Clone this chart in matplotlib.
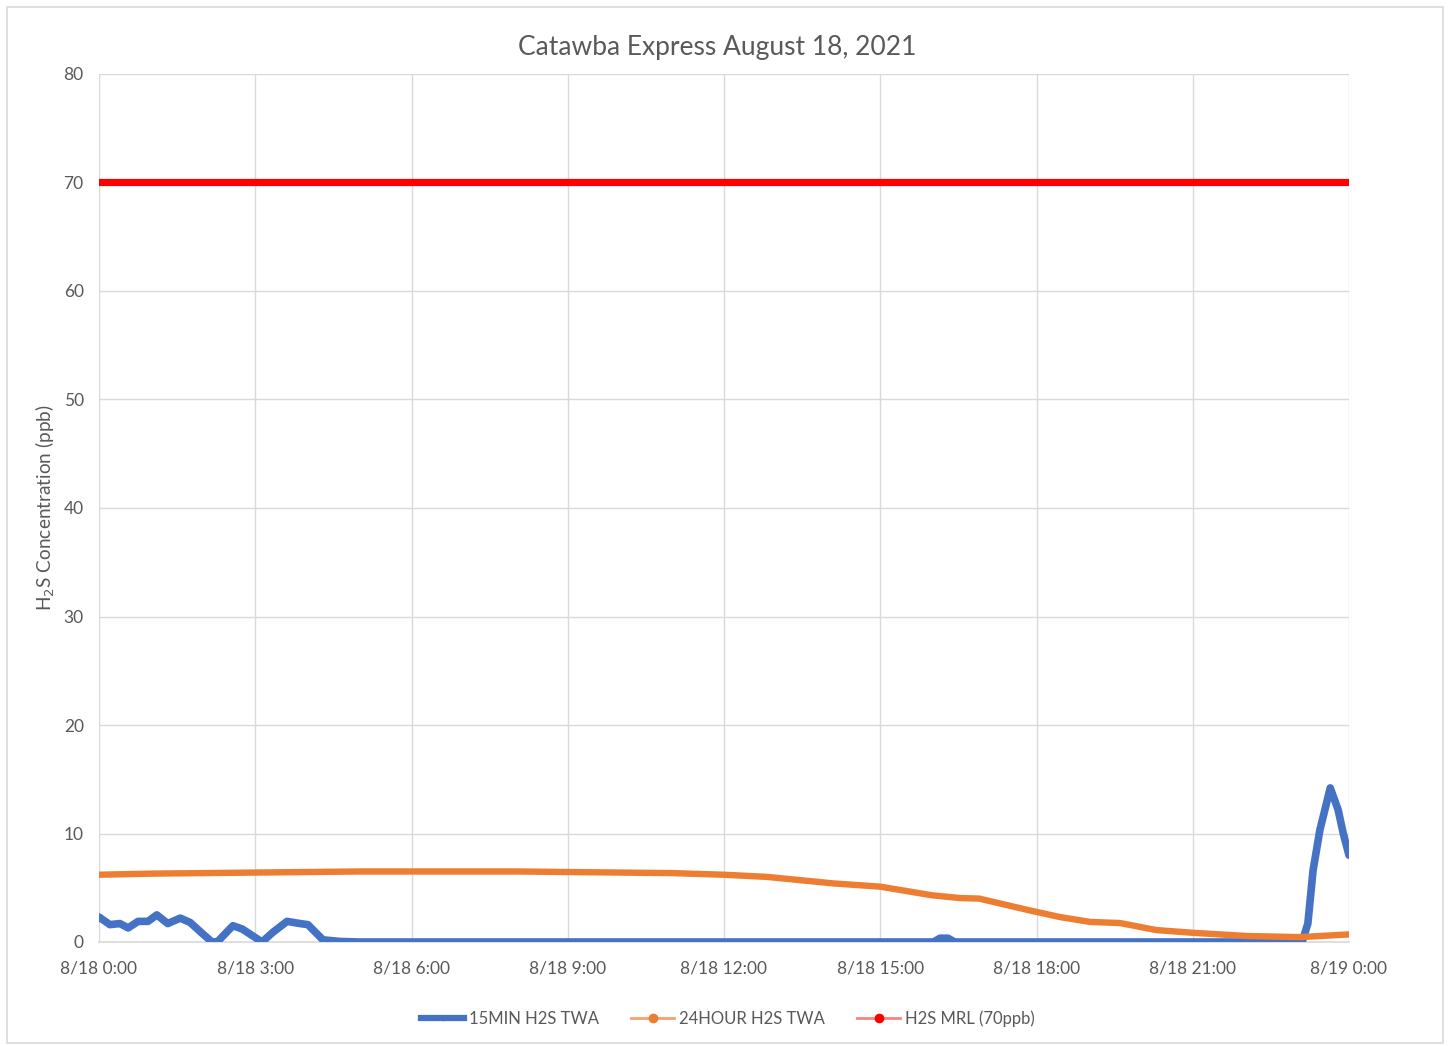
import matplotlib
matplotlib.use("Agg")
import matplotlib.pyplot as plt
from matplotlib.lines import Line2D
from matplotlib.patches import Rectangle

# ---- data ----
title = "Catawba Express August 18, 2021"
ylabel = "H$_2$S Concentration (ppb)"
xtick_hours = [0, 3, 6, 9, 12, 15, 18, 21, 24]
xtick_labels = ["8/18 0:00", "8/18 3:00", "8/18 6:00", "8/18 9:00", "8/18 12:00",
                "8/18 15:00", "8/18 18:00", "8/18 21:00", "8/19 0:00"]
ytick_values = [0, 10, 20, 30, 40, 50, 60, 70, 80]

blue_hours = [0.0, 0.21, 0.40, 0.56, 0.75, 0.94, 1.11, 1.32, 1.56, 1.75, 1.98, 2.17,
              2.28, 2.57, 2.75, 3.13, 3.34, 3.61, 3.86, 4.01, 4.30, 4.63, 5.0,
              16.02, 16.15, 16.30, 16.43, 23.1, 23.21, 23.31, 23.44, 23.64, 23.79,
              23.89, 24.0]
blue_vals = [2.3, 1.6, 1.7, 1.3, 1.9, 1.9, 2.5, 1.7, 2.2, 1.8, 0.8, 0.0,
             0.05, 1.5, 1.2, 0.0, 0.9, 1.9, 1.7, 1.6, 0.2, 0.05, 0.0,
             0.0, 0.35, 0.35, 0.0, 0.0, 1.7, 6.6, 10.3, 14.2, 12.2,
             10.0, 8.0]

orange_hours = [0, 1, 2, 3, 4, 5, 6, 7, 8, 9, 10, 11, 12, 12.83, 14.1, 15, 16,
                16.53, 16.9, 17.88, 18.45, 19.03, 19.6, 20.3, 21, 22.04, 23.06, 24]
orange_vals = [6.2, 6.3, 6.35, 6.4, 6.45, 6.5, 6.5, 6.5, 6.5, 6.45, 6.4, 6.35, 6.2,
               6.0, 5.4, 5.1, 4.3, 4.05, 4.0, 2.9, 2.3, 1.85, 1.75, 1.1, 0.85,
               0.55, 0.45, 0.7]

mrl_hours = [0, 24]
mrl_vals = [70, 70]

series_names = ["15MIN H2S TWA", "24HOUR H2S TWA", "H2S MRL (70ppb)"]

# ---- style ----
plt.rcParams['font.family'] = ['Lato', 'DejaVu Sans']
txt = '#595959'
grid_c = '#D9D9D9'
blue = '#4472C4'
orange = '#ED7D31'
red = '#FF0000'

fig = plt.figure(figsize=(14.49, 10.46), dpi=100)
fig.patches.append(Rectangle((7/1449, 1 - 1043/1046), (1443-7)/1449, (1043-7)/1046,
                             transform=fig.transFigure, fill=False,
                             edgecolor='#D9D9D9', lw=1.2))
ax = fig.add_axes([99/1449, 1 - 942/1046, (1349-99)/1449, (942-74)/1046])

ax.plot(blue_hours, blue_vals, color=blue, lw=5.5, solid_capstyle='round',
        solid_joinstyle='round', zorder=3)
ax.plot(orange_hours, orange_vals, color=orange, lw=4.6, solid_capstyle='round',
        solid_joinstyle='round', zorder=4)
ax.plot(mrl_hours, mrl_vals, color=red, lw=5.2, solid_capstyle='round', zorder=5)

ax.set_xlim(0, 24)
ax.set_ylim(0, 80)
ax.set_xticks(xtick_hours)
ax.set_xticklabels(xtick_labels)
ax.set_yticks(ytick_values)
ax.grid(True, color=grid_c, lw=1.0)
ax.set_axisbelow(True)
for s in ['top', 'right', 'left']:
    ax.spines[s].set_visible(False)
ax.spines['bottom'].set_color(grid_c)
ax.spines['bottom'].set_linewidth(1.2)
ax.tick_params(length=0, labelsize=12.5, colors=txt)
ax.tick_params(axis='x', pad=13)
ax.tick_params(axis='y', pad=11)

fig.text(717/1449, 1 - 48/1046, title, ha='center', va='center',
         fontsize=19, color=txt)
fig.text(45/1449, 1 - 508/1046, ylabel, rotation=90, ha='center', va='center',
         fontsize=13.7, color=txt)

handles = [
    Line2D([], [], color=blue, lw=4.5, marker='o', markersize=3, markerfacecolor=blue),
    Line2D([], [], color='#F4A06A', lw=2, marker='o', markersize=6, markerfacecolor=orange,
           markeredgecolor=orange),
    Line2D([], [], color='#FF8080', lw=2, marker='o', markersize=6, markerfacecolor=red,
           markeredgecolor=red),
]
leg = fig.legend(handles, series_names, loc='center', bbox_to_anchor=(728/1449, 1 - 1019/1046),
                 ncol=3, frameon=False, fontsize=12, handlelength=2.6, handletextpad=0.3,
                 columnspacing=1.9)
for t in leg.get_texts():
    t.set_color(txt)

fig.savefig("out.png", dpi=100)
